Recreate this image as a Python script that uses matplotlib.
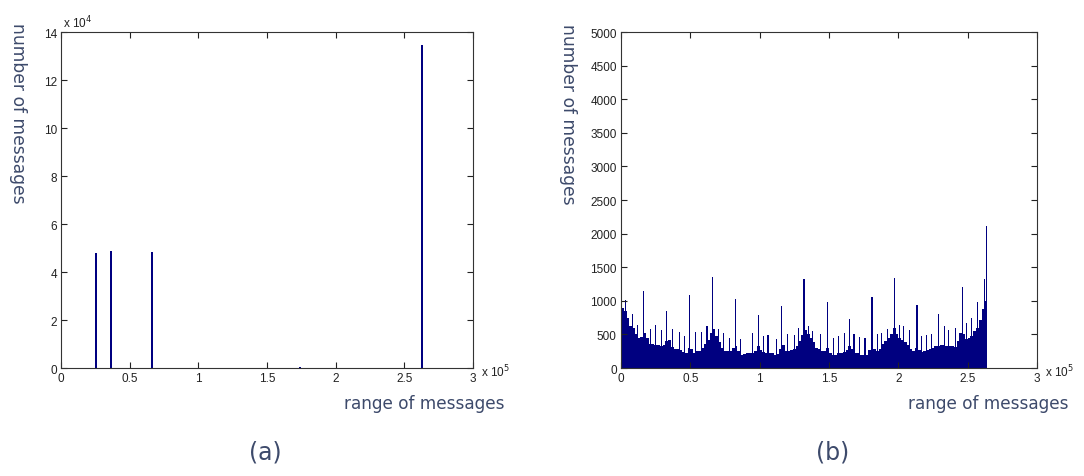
import numpy as np
import matplotlib
matplotlib.use('Agg')
import matplotlib.pyplot as plt

# (a) few large bins
a_pos = [25300, 36700, 66100, 174000, 262800]
a_cnt = [48000, 48800, 48300, 500, 134400]

# (b) smooth part, 2000-wide bins starting at 0
b_base = [900, 850, 750, 620, 600, 500, 450, 460, 520, 450,
          360, 350, 340, 340, 330, 340, 400, 420, 310, 290,
          280, 270, 240, 220, 300, 280, 220, 250, 260, 300,
          350, 420, 520, 580, 480, 380, 300, 260, 250, 260,
          300, 330, 250, 200, 210, 230, 230, 230, 250, 320,
          270, 240, 230, 230, 220, 200, 210, 290, 340, 260,
          250, 270, 280, 320, 400, 490, 570, 500, 440, 380,
          300, 280, 250, 260, 300, 230, 200, 200, 220, 220,
          240, 270, 330, 290, 230, 220, 200, 190, 200, 270,
          340, 280, 260, 290, 350, 400, 450, 510, 590, 500,
          450, 420, 380, 340, 280, 250, 300, 270, 240, 250,
          270, 290, 300, 320, 320, 340, 340, 330, 330, 320,
          310, 400, 520, 500, 430, 440, 480, 550, 600, 720,
          880, 1000]
# (b) narrow spikes: position (x1000), count
spk_x = [0.5, 3, 8.5, 12, 16, 21, 25, 29, 32.5, 37, 42, 46, 49.5, 54, 58,
         62, 66, 70, 74, 78, 82.5, 86, 95, 99, 103, 106, 112, 116, 120, 125,
         128, 132, 135, 138, 144, 149, 153, 157, 161, 165, 168, 172, 176, 181,
         185, 188, 192, 197, 201, 204, 208, 213.5, 217, 220, 224, 229, 233, 236,
         241, 246, 249, 253, 257, 262, 263.5]
spk_y = [1280, 1010, 800, 640, 1150, 580, 640, 560, 850, 580, 540, 480, 1080, 540, 540,
         620, 1360, 580, 520, 440, 1030, 430, 520, 790, 480, 490, 430, 920, 500, 490,
         600, 1320, 620, 550, 500, 980, 440, 470, 520, 730, 510, 460, 450, 1050,
         500, 520, 580, 1340, 640, 620, 560, 940, 480, 490, 500, 800, 620, 560,
         600, 1200, 670, 740, 980, 1320, 2110]

W, H = 1084, 477
bar_c = '#000080'
lab_c = '#3d4a6b'
lab_font = ['DejaVu Sans']
tick_font = ['Liberation Sans', 'DejaVu Sans']

fig = plt.figure(figsize=(W/100, H/100), dpi=100)

def px_axes(x0, x1, y0, y1):
    return fig.add_axes([x0/W, 1-y1/H, (x1-x0)/W, (y1-y0)/H])

def style(ax):
    ax.tick_params(direction='in', top=True, right=True, length=4, width=0.8,
                   labelsize=8.5, pad=3, colors='#222222')
    for t in ax.get_xticklabels() + ax.get_yticklabels():
        t.set_family(tick_font)
    for s in ax.spines.values():
        s.set_linewidth(0.8)
        s.set_color('#333333')

#%% (a)
ax1 = px_axes(61, 473, 33, 369)
ax1.bar(a_pos, a_cnt, width=1500, color=bar_c, linewidth=0)
ax1.set_xlim(0, 300000)
ax1.set_ylim(0, 140000)
ax1.set_xticks(np.arange(0, 300001, 50000))
ax1.set_xticklabels(['0', '0.5', '1', '1.5', '2', '2.5', '3'])
ax1.set_yticks(np.arange(0, 140001, 20000))
ax1.set_yticklabels([str(v) for v in range(0, 15, 2)])
style(ax1)

#%% (b)
ax2 = px_axes(621, 1037, 33, 369)
b_left = np.arange(len(b_base)) * 2000
ax2.bar(b_left, b_base, width=2000, align='edge', color=bar_c, linewidth=0)
ax2.bar(np.array(spk_x) * 1000, spk_y, width=800, color=bar_c, linewidth=0)
ax2.set_xlim(0, 300000)
ax2.set_ylim(0, 5000)
ax2.set_xticks(np.arange(0, 300001, 50000))
ax2.set_xticklabels(['0', '0.5', '1', '1.5', '2', '2.5', '3'])
ax2.set_yticks(np.arange(0, 5001, 500))
style(ax2)

#%% texts
def ftext(x, y, s, **kw):
    fig.text(x/W, 1-y/H, s, **kw)

ftext(63, 23, r'x 10$^{4}$', fontsize=8.5, family=tick_font, color='#222222', va='center')
ftext(481, 372, r'x 10$^{5}$', fontsize=8.5, family=tick_font, color='#222222', va='center')
ftext(1045, 372, r'x 10$^{5}$', fontsize=8.5, family=tick_font, color='#222222', va='center')

ftext(18, 23, 'number of messages', rotation=-90, fontsize=12.3, family=lab_font,
      color=lab_c, ha='center', va='top')
ftext(568, 24, 'number of messages', rotation=-90, fontsize=12.3, family=lab_font,
      color=lab_c, ha='center', va='top')
ftext(505, 404, 'range of messages', fontsize=12.2, family=lab_font,
      color=lab_c, ha='right', va='center')
ftext(1068, 404, 'range of messages', fontsize=12.2, family=lab_font,
      color=lab_c, ha='right', va='center')

ftext(265, 453, '(a)', fontsize=17, family=lab_font, color=lab_c, ha='center', va='center')
ftext(833, 453, '(b)', fontsize=17, family=lab_font, color=lab_c, ha='center', va='center')

fig.savefig('out.png', dpi=100)
